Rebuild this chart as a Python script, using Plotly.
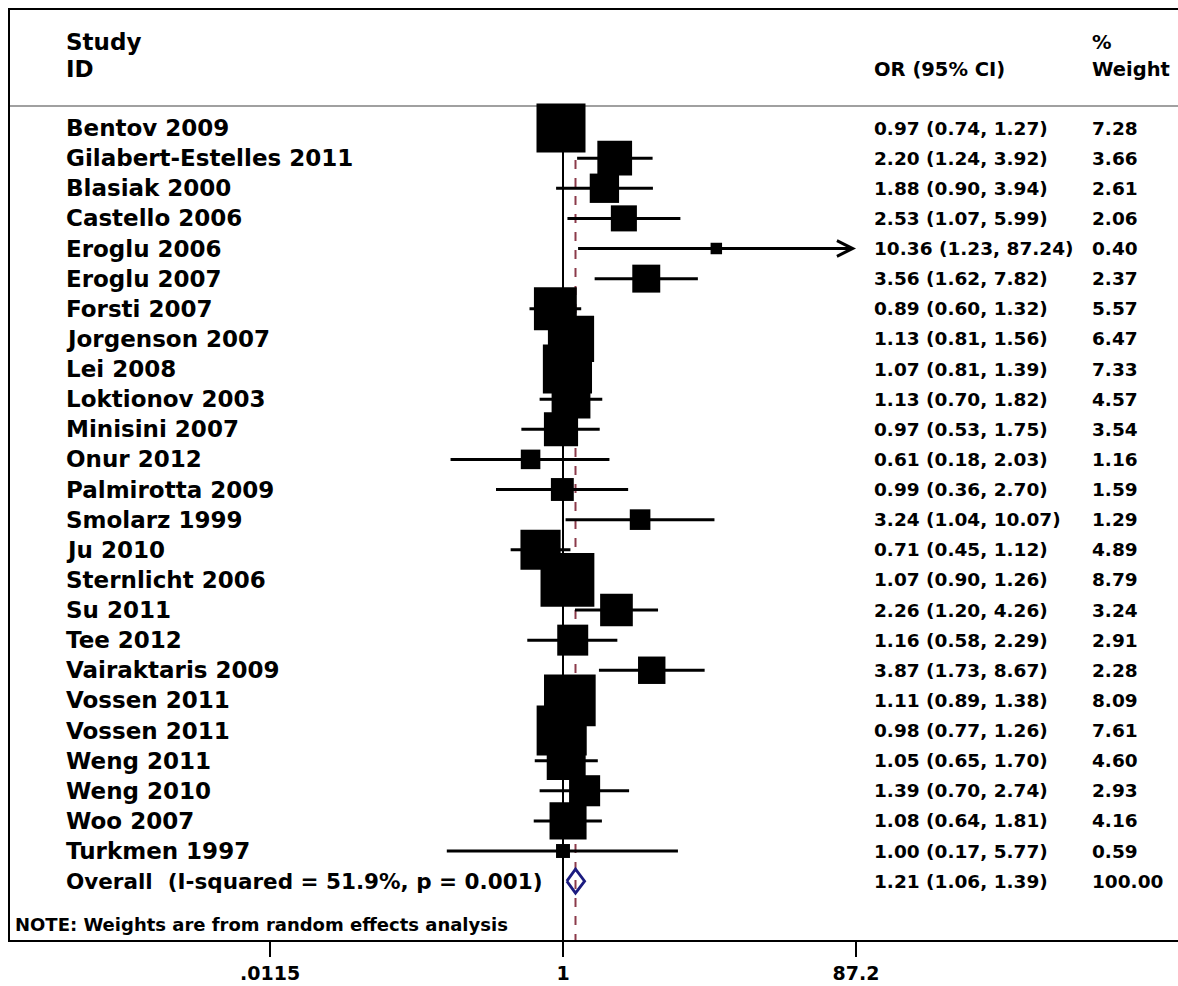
import math
import plotly.graph_objects as go

# ---------------- data ----------------
studies = ["Bentov 2009", "Gilabert-Estelles 2011", "Blasiak 2000", "Castello 2006",
           "Eroglu 2006", "Eroglu 2007", "Forsti 2007", "Jorgenson 2007", "Lei 2008",
           "Loktionov 2003", "Minisini 2007", "Onur 2012", "Palmirotta 2009",
           "Smolarz 1999", "Ju 2010", "Sternlicht 2006", "Su 2011", "Tee 2012",
           "Vairaktaris 2009", "Vossen 2011", "Vossen 2011", "Weng 2011", "Weng 2010",
           "Woo 2007", "Turkmen 1997"]
or_est = [0.97, 2.20, 1.88, 2.53, 10.36, 3.56, 0.89, 1.13, 1.07, 1.13, 0.97, 0.61, 0.99,
          3.24, 0.71, 1.07, 2.26, 1.16, 3.87, 1.11, 0.98, 1.05, 1.39, 1.08, 1.00]
ci_low = [0.74, 1.24, 0.90, 1.07, 1.23, 1.62, 0.60, 0.81, 0.81, 0.70, 0.53, 0.18, 0.36,
          1.04, 0.45, 0.90, 1.20, 0.58, 1.73, 0.89, 0.77, 0.65, 0.70, 0.64, 0.17]
ci_high = [1.27, 3.92, 3.94, 5.99, 87.24, 7.82, 1.32, 1.56, 1.39, 1.82, 1.75, 2.03, 2.70,
           10.07, 1.12, 1.26, 4.26, 2.29, 8.67, 1.38, 1.26, 1.70, 2.74, 1.81, 5.77]
weights = [7.28, 3.66, 2.61, 2.06, 0.40, 2.37, 5.57, 6.47, 7.33, 4.57, 3.54, 1.16, 1.59,
           1.29, 4.89, 8.79, 3.24, 2.91, 2.28, 8.09, 7.61, 4.60, 2.93, 4.16, 0.59]

overall_label = "Overall\u00a0\u00a0(I-squared = 51.9%, p = 0.001)"
overall_or, overall_low, overall_high, overall_weight = 1.21, 1.06, 1.39, 100.00
note_text = "NOTE: Weights are from random effects analysis"

tick_vals = [0.0115, 1, 87.2]
tick_text = [".0115", "1", "87.2"]

# ---------------- layout helpers ----------------
W, H = 1178, 986
ML, MT = 10, 10
PW = 1178 - 10
PH = 940 - 10
MR = W - ML - PW
MB = H - MT - PH
px_per_row = 30.125
y_top = -(128 - 10) / px_per_row
y_bot = y_top + PH / px_per_row
px_per_dec = 151.0
x_lo = -(563 - 10) / px_per_dec
x_hi = x_lo + PW / px_per_dec
header_y = y_top + (106 - 10) / px_per_row


def xp(px):
    return (px - 10) / PW


def yrow(py):
    return y_top + (py - 10) / px_per_row


NAME_FONT = dict(family="DejaVu Sans", size=23, color="black", weight="bold")
OVERALL_FONT = dict(family="DejaVu Sans", size=21.5, color="black", weight="bold")
NUM_FONT = dict(family="DejaVu Sans", size=18.5, color="black", weight="bold")
HEAD_FONT = dict(family="DejaVu Sans", size=19.5, color="black", weight="bold")

fig = go.Figure()
n = len(studies)
rows = list(range(n))

# reference line at 1 and dashed overall line
fig.add_trace(go.Scatter(x=[1, 1], y=[header_y, y_bot], mode="lines",
                         line=dict(color="black", width=2), hoverinfo="skip"))
fig.add_trace(go.Scatter(x=[overall_or, overall_or], y=[header_y, y_bot], mode="lines",
                         line=dict(color="#8b3a4a", width=2, dash="dash"), hoverinfo="skip"))

# CI lines
axis_max = tick_vals[-1]
annotations = []
for i in rows:
    hi = ci_high[i]
    if hi > axis_max:
        annotations.append(dict(x=math.log10(axis_max), y=i, ax=math.log10(ci_low[i]), ay=i,
                                xref="x", yref="y", axref="x", ayref="y", text="",
                                showarrow=True, arrowhead=5, arrowsize=1.1,
                                arrowwidth=2.8, arrowcolor="black", standoff=0))
    else:
        fig.add_trace(go.Scatter(x=[ci_low[i], hi], y=[i, i], mode="lines",
                                 line=dict(color="black", width=3), hoverinfo="skip"))

# squares
fig.add_trace(go.Scatter(x=or_est, y=rows, mode="markers",
                         marker=dict(symbol="square", color="black", opacity=1,
                                     size=[18.16 * math.sqrt(w) for w in weights],
                                     line=dict(width=0)),
                         hoverinfo="skip"))

# overall diamond
r = n
h = 0.4
fig.add_trace(go.Scatter(x=[overall_low, overall_or, overall_high, overall_or, overall_low],
                         y=[r, r - h, r, r + h, r], mode="lines",
                         line=dict(color="#1c1c80", width=2.8), hoverinfo="skip"))

# text columns
for i in rows:
    annotations.append(dict(x=xp(64), y=i, xref="paper", yref="y", text=studies[i],
                            showarrow=False, xanchor="left", yanchor="middle", font=NAME_FONT))
    annotations.append(dict(x=xp(872), y=i, xref="paper", yref="y",
                            text=f"{or_est[i]:.2f} ({ci_low[i]:.2f}, {ci_high[i]:.2f})",
                            showarrow=False, xanchor="left", yanchor="middle", font=NUM_FONT))
    annotations.append(dict(x=xp(1090), y=i, xref="paper", yref="y", text=f"{weights[i]:.2f}",
                            showarrow=False, xanchor="left", yanchor="middle", font=NUM_FONT))

annotations.append(dict(x=xp(64), y=r, xref="paper", yref="y", text=overall_label,
                        showarrow=False, xanchor="left", yanchor="middle", font=OVERALL_FONT))
annotations.append(dict(x=xp(872), y=r, xref="paper", yref="y",
                        text=f"{overall_or:.2f} ({overall_low:.2f}, {overall_high:.2f})",
                        showarrow=False, xanchor="left", yanchor="middle", font=NUM_FONT))
annotations.append(dict(x=xp(1090), y=r, xref="paper", yref="y", text=f"{overall_weight:.2f}",
                        showarrow=False, xanchor="left", yanchor="middle", font=NUM_FONT))

# headers
for txt, px, py, f in [("Study", 64, 42, NAME_FONT), ("ID", 64, 69, NAME_FONT),
                       ("OR (95% CI)", 872, 69, HEAD_FONT), ("%", 1090, 42, HEAD_FONT),
                       ("Weight", 1090, 69, HEAD_FONT)]:
    annotations.append(dict(x=xp(px), y=yrow(py), xref="paper", yref="y", text=txt,
                            showarrow=False, xanchor="left", yanchor="middle", font=f))

annotations.append(dict(x=xp(13), y=yrow(924), xref="paper", yref="y", text=note_text,
                        showarrow=False, xanchor="left", yanchor="middle",
                        font=dict(family="DejaVu Sans", size=18, color="black", weight="bold")))

shapes = [dict(type="line", xref="paper", yref="y", x0=0, x1=1, y0=header_y, y1=header_y,
               line=dict(color="#a0a0a0", width=2), layer="below")]

fig.update_layout(
    width=W, height=H, margin=dict(l=ML, r=MR, t=MT, b=MB, pad=0),
    paper_bgcolor="white", plot_bgcolor="white", showlegend=False,
    annotations=annotations, shapes=shapes,
    font=dict(family="DejaVu Sans", color="black"),
    xaxis=dict(type="log", range=[x_lo, x_hi], tickvals=tick_vals, ticktext=tick_text,
               showgrid=False, zeroline=False, showline=True, linecolor="black", linewidth=2,
               mirror=True, ticks="outside", ticklen=15, tickwidth=2, tickcolor="black",
               tickfont=dict(family="DejaVu Sans", size=19, color="black", weight="bold"),
               fixedrange=True),
    yaxis=dict(range=[y_bot, y_top], showgrid=False, zeroline=False, showline=True,
               linecolor="black", linewidth=2, showticklabels=False, ticks="",
               fixedrange=True),
)

fig.write_html("out.html", config={"displayModeBar": False},
               post_script="document.body.style.margin='0px';"
                           "document.body.style.overflow='hidden';")
